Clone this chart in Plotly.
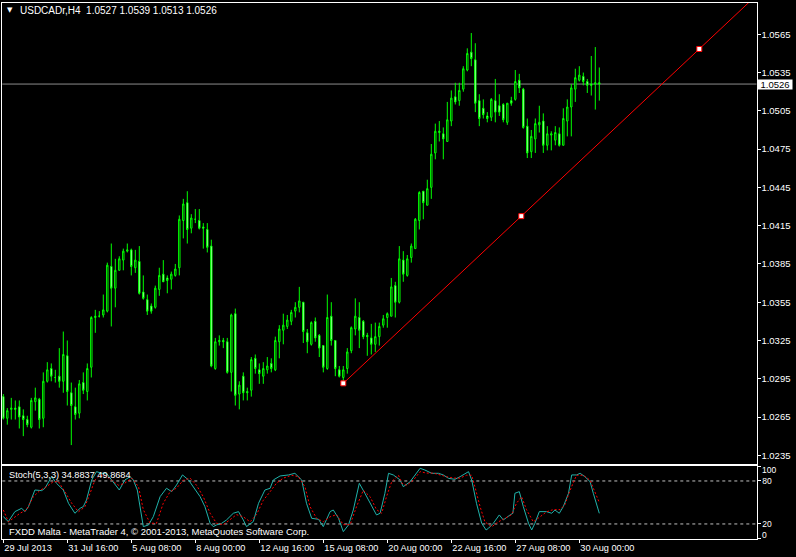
import plotly.graph_objects as go

W, H = 796, 557

# ---------------- data (H4 candles, 29 Jul 2013 00:00 onwards) ----------------
open_ = [1.0281,1.0264,1.0271,1.0272,1.0273,1.0266,1.0263,1.0257,1.0277,1.0279,
         1.0264,1.0293,1.0303,1.0296,1.0297,1.0293,1.0313,1.0284,1.0273,1.0268,
         1.0292,1.0285,1.0304,1.0343,1.0344,1.0345,1.0348,1.0383,1.0366,1.0380,
         1.0388,1.0395,1.0396,1.0382,1.0387,1.0363,1.0357,1.0352,1.0351,1.0365,
         1.0377,1.0374,1.0373,1.0376,1.0382,1.0419,1.0433,1.0413,1.0420,1.0419,
         1.0414,1.0412,1.0399,1.0303,1.0324,1.0325,1.0324,1.0300,1.0346,1.0283,
         1.0297,1.0285,1.0286,1.0311,1.0302,1.0297,1.0302,1.0307,1.0302,1.0324,
         1.0333,1.0336,1.0340,1.0348,1.0351,1.0355,1.0331,1.0322,1.0340,1.0329,
         1.0321,1.0303,1.0344,1.0325,1.0302,1.0296,1.0303,1.0317,1.0334,1.0343,
         1.0340,1.0329,1.0327,1.0322,1.0328,1.0337,1.0343,1.0344,1.0368,1.0355,
         1.0388,1.0376,1.0390,1.0397,1.0419,1.0442,1.0431,1.0445,1.0472,1.0488,
         1.0487,1.0481,1.0497,1.0516,1.0513,1.0522,1.0537,1.0551,1.0545,1.0513,
         1.0507,1.0501,1.0500,1.0513,1.0509,1.0510,1.0496,1.0513,1.0514,1.0529,
         1.0522,1.0493,1.0473,1.0483,1.0494,1.0497,1.0478,1.0486,1.0482,1.0487,
         1.0478,1.0497,1.0508,1.0522,1.0529,1.0532,1.0528,1.0526,1.0526,1.0527]
high = [1.0283,1.0272,1.0280,1.0278,1.0278,1.0271,1.0266,1.0280,1.0288,1.0280,
        1.0300,1.0308,1.0307,1.0302,1.0319,1.0332,1.0325,1.0292,1.0288,1.0294,
        1.0300,1.0307,1.0344,1.0349,1.0348,1.0361,1.0386,1.0401,1.0389,1.0391,
        1.0397,1.0401,1.0397,1.0396,1.0399,1.0376,1.0361,1.0354,1.0368,1.0382,
        1.0388,1.0376,1.0379,1.0385,1.0423,1.0436,1.0442,1.0424,1.0428,1.0428,
        1.0417,1.0417,1.0404,1.0327,1.0329,1.0327,1.0327,1.0346,1.0350,1.0293,
        1.0300,1.0288,1.0312,1.0314,1.0307,1.0308,1.0312,1.0311,1.0328,1.0337,
        1.0346,1.0345,1.0349,1.0355,1.0367,1.0355,1.0334,1.0340,1.0343,1.0330,
        1.0321,1.0361,1.0355,1.0325,1.0305,1.0305,1.0319,1.0336,1.0358,1.0355,
        1.0341,1.0331,1.0338,1.0339,1.0339,1.0345,1.0347,1.0374,1.0371,1.0399,
        1.0395,1.0392,1.0401,1.0421,1.0442,1.0442,1.0451,1.0479,1.0495,1.0497,
        1.0492,1.0512,1.0521,1.0527,1.0527,1.0540,1.0554,1.0566,1.0558,1.0518,
        1.0514,1.0504,1.0515,1.0530,1.0518,1.0511,1.0511,1.0516,1.0537,1.0534,
        1.0523,1.0499,1.0490,1.0499,1.0509,1.0503,1.0493,1.0489,1.0493,1.0492,
        1.0507,1.0514,1.0526,1.0538,1.0540,1.0535,1.0530,1.0548,1.0555,1.0539]
low = [1.0263,1.0259,1.0263,1.0263,1.0256,1.0250,1.0257,1.0256,1.0270,1.0256,
       1.0257,1.0292,1.0293,1.0292,1.0288,1.0284,1.0274,1.0243,1.0263,1.0264,
       1.0283,1.0278,1.0296,1.0331,1.0343,1.0343,1.0347,1.0336,1.0351,1.0380,
       1.0380,1.0394,1.0376,1.0378,1.0361,1.0357,1.0345,1.0346,1.0350,1.0360,
       1.0371,1.0362,1.0365,1.0375,1.0376,1.0405,1.0401,1.0409,1.0417,1.0412,
       1.0397,1.0394,1.0304,1.0302,1.0321,1.0319,1.0299,1.0285,1.0274,1.0271,
       1.0278,1.0278,1.0281,1.0299,1.0291,1.0291,1.0299,1.0300,1.0301,1.0311,
       1.0322,1.0334,1.0337,1.0343,1.0347,1.0323,1.0315,1.0321,1.0324,1.0312,
       1.0300,1.0302,1.0321,1.0297,1.0296,1.0292,1.0299,1.0315,1.0329,1.0319,
       1.0326,1.0313,1.0314,1.0316,1.0321,1.0335,1.0335,1.0344,1.0343,1.0354,
       1.0371,1.0375,1.0386,1.0397,1.0412,1.0420,1.0431,1.0436,1.0467,1.0481,
       1.0467,1.0481,1.0493,1.0510,1.0509,1.0520,1.0536,1.0540,1.0504,1.0493,
       1.0499,1.0496,1.0497,1.0496,1.0501,1.0496,1.0494,1.0509,1.0513,1.0519,
       1.0491,1.0468,1.0468,1.0472,1.0488,1.0472,1.0474,1.0474,1.0478,1.0477,
       1.0478,1.0485,1.0485,1.0512,1.0528,1.0525,1.0519,1.0517,1.0506,1.0513]
close = [1.0264,1.0270,1.0272,1.0271,1.0265,1.0263,1.0259,1.0278,1.0280,1.0263,
         1.0293,1.0302,1.0297,1.0296,1.0293,1.0314,1.0285,1.0274,1.0267,1.0291,
         1.0286,1.0303,1.0343,1.0344,1.0344,1.0349,1.0384,1.0366,1.0380,1.0389,
         1.0395,1.0396,1.0383,1.0388,1.0362,1.0358,1.0348,1.0348,1.0366,1.0376,
         1.0371,1.0372,1.0377,1.0381,1.0420,1.0432,1.0412,1.0421,1.0420,1.0413,
         1.0413,1.0398,1.0305,1.0324,1.0325,1.0324,1.0300,1.0345,1.0282,1.0290,
         1.0284,1.0284,1.0310,1.0303,1.0299,1.0303,1.0305,1.0303,1.0325,1.0334,
         1.0337,1.0341,1.0347,1.0351,1.0356,1.0332,1.0324,1.0339,1.0327,1.0319,
         1.0304,1.0343,1.0325,1.0303,1.0297,1.0302,1.0316,1.0335,1.0344,1.0333,
         1.0328,1.0328,1.0322,1.0328,1.0336,1.0342,1.0346,1.0367,1.0355,1.0389,
         1.0377,1.0389,1.0399,1.0420,1.0441,1.0433,1.0444,1.0471,1.0489,1.0489,
         1.0483,1.0498,1.0515,1.0512,1.0521,1.0538,1.0550,1.0546,1.0511,1.0499,
         1.0502,1.0499,1.0514,1.0504,1.0504,1.0498,1.0511,1.0511,1.0528,1.0523,
         1.0492,1.0472,1.0485,1.0495,1.0496,1.0478,1.0487,1.0487,1.0488,1.0478,
         1.0499,1.0508,1.0523,1.0531,1.0533,1.0528,1.0525,1.0525,1.0527,1.0526]

bid_price = 1.0526
price_ticks = [1.0235, 1.0265, 1.0295, 1.0325, 1.0355, 1.0385, 1.0415,
               1.0445, 1.0475, 1.0505, 1.0535, 1.0565]
time_tick_bars = [0, 16, 32, 48, 64, 80, 96, 112, 128, 144]
time_tick_labels = ["29 Jul 2013", "31 Jul 16:00", "5 Aug 08:00", "8 Aug 00:00",
                    "12 Aug 16:00", "15 Aug 08:00", "20 Aug 00:00", "22 Aug 16:00",
                    "27 Aug 08:00", "30 Aug 00:00"]

# trend line (bar index, price) of its two anchors
trend_bars = [85, 174]
trend_prices = [1.02914, 1.05535]

# Stochastic(5,3,3) main (%K) and signal (%D) lines
stoch_k_x = [0,1.25,2.9,4.6,5.4,6.3,7.9,9.6,10.4,12.1,13.3,15,16.3,17.9,19.2,20,20.8,22.1,23.3,24.6,
             25.8,27.5,29,30.4,31.7,32.5,33.5,35,36.3,37.5,39.2,40.8,42.1,43.3,44.8,46.3,47.5,49.2,50.4,51.7,
             52.5,53.3,54.6,55.8,57.5,58.8,60,60.8,62.5,63.8,65.4,66.7,67.5,69.2,71.3,72.9,74.6,75.8,77.1,78.8,
             80,81.7,82.5,83.8,85,86.3,87.5,89,90.4,91.7,93.3,94.2,95.4,96.3,97.5,99.2,100,101.7,102.9,104.2,
             105.4,107.1,108.8,110,111.3,112.9,114.2,116.3,117.1,118.3,119.6,120.7,121.3,122.5,124,125,126.7,127.4,127.9,129,
             130,131.3,132.1,132.9,134,135.8,137.1,137.9,139,140,141.3,142.1,143.3,144.2,145.4,146.7,147.5,149]
stoch_k = [30.2,23.3,37.2,41.9,37.2,44.2,67.4,66.5,69.8,86,76.7,67.4,48.8,34.9,41.9,44.2,53.5,81.4,93,90.7,
           90.7,79,67.4,81.4,86,81.4,67.4,16.3,18.6,30.2,58.1,69.8,65.1,74.4,88.4,81.4,72.1,58.1,44.2,20.9,
           16.3,18.6,20.9,25.6,34.9,37.2,25.6,16.3,23.3,48.8,67.4,69.8,81.4,87,88.4,90.7,81.4,48.8,27.9,26.5,
           16.3,37.2,39.5,27.9,9.3,18.6,39.5,76.7,62.8,48.8,32.6,34.9,62.8,90.7,88.4,81.4,72,79,88.4,97.7,
           95.3,90.7,90.7,88.4,83.7,82.3,86,93,81.4,48.8,20.9,11.6,14,20.9,32.6,25.6,32.6,34.9,62.8,65.1,
           44.2,20.9,11.6,20.9,37.2,37.2,34.9,39.5,34.9,44.2,62.8,88.4,88.4,90.7,86,79,62.8,34.88]
stoch_d_x = [0,1.3,2.5,4.2,5.8,7.5,9.2,10.8,12.5,13.8,15.4,17.1,18.8,20.4,21.7,22.9,24.2,25.4,27.1,28.8,
             30.4,32.1,33.8,35,36.7,38.3,40,41.7,43.3,45,46.7,48.3,50,51.7,53.3,55,56.7,58.3,60,61.7,
             63.3,65,66.7,68.3,70,72.1,73.8,75.4,76.7,78.3,80,81.7,83.3,85,86.7,88.3,90,91.7,93.3,94.6,
             95.8,97.1,98.8,99.6,100.8,102.5,104.2,105.8,107.5,109.2,110.8,112.5,114.2,115.8,117.1,117.9,119.2,120.4,122.1,123.8,
             125.4,127.1,128.3,129.6,130.8,132.5,134.2,135.8,137.5,139.2,140.4,141.7,143.3,145,146.7,148.3,149]
stoch_d = [39.5,23,28,35,39.5,58,67,72,79,79,65,49,37,44,63,81,88,88,81,74,
           77,84,72,40,21,21,49,65,70,81,84,74,58,35,21,19,26,33,30,23,
           33,53,65,77,84,88,86,72,44,28,23,30,33,19,19,44,67,58,40,35,
           58,79,88,77,74,81,93,91,91,88,86,84,84,88,88,72,44,23,16,23,
           28,33,49,58,40,23,30,37,40,40,47,67,88,88,81,58,49.87]

title_text = "USDCADr,H4\u00a0\u00a01.0527 1.0539 1.0513 1.0526"
stoch_title = "Stoch(5,3,3) 34.8837 49.8684"
copyright_text = "FXDD Malta - MetaTrader 4, \u00a9 2001-2013, MetaQuotes Software Corp."

# ---------------- layout geometry ----------------
def px_x(p):
    return p / W

def px_y(p):
    return 1 - p / H

x_dom = [px_x(2.3), px_x(756.5)]
main_dom = [px_y(463.5), px_y(2.7)]
stoch_dom = [px_y(539), px_y(466)]
x_range = [-0.25, 188.3]

FONT = "Liberation Sans"
GREEN = "#00FF00"
FS = 9.5
FS_STOCH = 8.5

fig = go.Figure()

fig.add_trace(go.Candlestick(
    x=list(range(len(open_))), open=open_, high=high, low=low, close=close,
    increasing=dict(line=dict(color=GREEN, width=1), fillcolor="#000000"),
    decreasing=dict(line=dict(color=GREEN, width=1), fillcolor="#FFFFFF"),
    whiskerwidth=0, hoverinfo="skip", xaxis="x", yaxis="y", showlegend=False))

# trend line ray
slope = (trend_prices[1] - trend_prices[0]) / (trend_bars[1] - trend_bars[0])
ray_end = 200
fig.add_trace(go.Scatter(
    x=[trend_bars[0], ray_end],
    y=[trend_prices[0], trend_prices[0] + slope * (ray_end - trend_bars[0])],
    mode="lines", line=dict(color="#FF0000", width=1), hoverinfo="skip",
    xaxis="x", yaxis="y", showlegend=False))
mid_bar = (trend_bars[0] + trend_bars[1]) / 2
mid_price = (trend_prices[0] + trend_prices[1]) / 2
fig.add_trace(go.Scatter(
    x=[trend_bars[0], mid_bar, trend_bars[1]],
    y=[trend_prices[0], mid_price, trend_prices[1]],
    mode="markers", marker=dict(symbol="square", size=5, color="#FFFFFF",
                                line=dict(color="#FF0000", width=1)),
    hoverinfo="skip", xaxis="x", yaxis="y", showlegend=False))

# stochastic
fig.add_trace(go.Scatter(x=stoch_k_x, y=stoch_k, mode="lines",
                         line=dict(color="#20B2AA", width=1), hoverinfo="skip",
                         xaxis="x2", yaxis="y2", showlegend=False))
fig.add_trace(go.Scatter(x=stoch_d_x, y=stoch_d, mode="lines",
                         line=dict(color="#FF0000", width=1, dash="2px,2px"), hoverinfo="skip",
                         xaxis="x2", yaxis="y2", showlegend=False))

shapes = [
    dict(type="line", xref="x domain", yref="y", x0=0, x1=1, y0=bid_price, y1=bid_price,
         line=dict(color="#8C8C8C", width=1), layer="below"),
    dict(type="line", xref="x2 domain", yref="y2", x0=0, x1=1, y0=80, y1=80,
         line=dict(color="#C0C0C0", width=1, dash="3px,3px"), layer="below"),
    dict(type="line", xref="x2 domain", yref="y2", x0=0, x1=1, y0=20, y1=20,
         line=dict(color="#C0C0C0", width=1, dash="3px,3px"), layer="below"),
]

annotations = [
    dict(text="\u25bc", x=px_x(9.5), y=px_y(10.5), xref="paper", yref="paper",
         xanchor="center", yanchor="middle", showarrow=False,
         font=dict(family="DejaVu Sans", size=7, color="#FFFFFF")),
    dict(text=title_text, x=px_x(17.5), y=px_y(10.7), xref="paper", yref="paper",
         xanchor="left", yanchor="middle", showarrow=False,
         font=dict(family=FONT, size=10, color="#FFFFFF")),
    dict(text=stoch_title, x=px_x(6.5), y=px_y(474.5), xref="paper", yref="paper",
         xanchor="left", yanchor="middle", showarrow=False,
         font=dict(family=FONT, size=9.2, color="#FFFFFF")),
    dict(text=copyright_text, x=px_x(6.5), y=px_y(531.5), xref="paper", yref="paper",
         xanchor="left", yanchor="middle", showarrow=False,
         font=dict(family=FONT, size=FS, color="#FFFFFF")),
    dict(text=f"{bid_price:.4f}", x=px_x(757), y=bid_price, xref="paper", yref="y",
         xanchor="left", yanchor="middle", showarrow=False, bgcolor="#FFFFFF",
         width=33, height=8, borderpad=0.5, align="center",
         font=dict(family=FONT, size=FS, color="#000000")),
    dict(text="100", x=px_x(760), y=px_y(470.3), xref="paper", yref="paper",
         xanchor="left", yanchor="middle", showarrow=False,
         font=dict(family=FONT, size=FS_STOCH, color="#FFFFFF")),
    dict(text="0", x=px_x(760), y=px_y(534.6), xref="paper", yref="paper",
         xanchor="left", yanchor="middle", showarrow=False,
         font=dict(family=FONT, size=FS_STOCH, color="#FFFFFF")),
]

axis_common = dict(showgrid=False, zeroline=False, showline=True, mirror=True,
                   linecolor="#FFFFFF", linewidth=1, automargin=False)

fig.update_layout(
    width=W, height=H, margin=dict(l=0, r=0, t=0, b=0, pad=0, autoexpand=False),
    paper_bgcolor="#000000", plot_bgcolor="#000000",
    showlegend=False, boxgap=0.5, hovermode=False,
    font=dict(family=FONT, size=FS, color="#FFFFFF"),
    xaxis=dict(domain=x_dom, range=x_range, anchor="y", showticklabels=False,
               ticks="", rangeslider=dict(visible=False), **axis_common),
    yaxis=dict(domain=main_dom, range=[1.022856, 1.058977], anchor="x", side="right",
               tickvals=price_ticks, ticktext=[f"{v:.4f}" for v in price_ticks],
               ticks="outside", ticklen=3, tickcolor="#FFFFFF", ticklabelstandoff=-1,
               tickfont=dict(family=FONT, size=FS, color="#FFFFFF"), **axis_common),
    xaxis2=dict(domain=x_dom, range=x_range, anchor="y2",
                tickvals=time_tick_bars, ticktext=time_tick_labels,
                ticks="outside", ticklen=3, tickcolor="#FFFFFF", tickangle=0,
                ticklabelposition="outside right",
                tickfont=dict(family=FONT, size=9.2, color="#FFFFFF"), **axis_common),
    yaxis2=dict(domain=stoch_dom, range=[-1, 100.9], anchor="x2", side="right",
                tickvals=[0, 20, 80, 100], ticktext=["", "20", "80", ""],
                ticks="outside", ticklen=3, tickcolor="#FFFFFF",
                tickfont=dict(family=FONT, size=FS_STOCH, color="#FFFFFF"), **axis_common),
    shapes=shapes, annotations=annotations,
)

fig.write_html("out.html", config={"displayModeBar": False},
               post_script="document.body.style.margin='0';document.body.style.background='#000';")
